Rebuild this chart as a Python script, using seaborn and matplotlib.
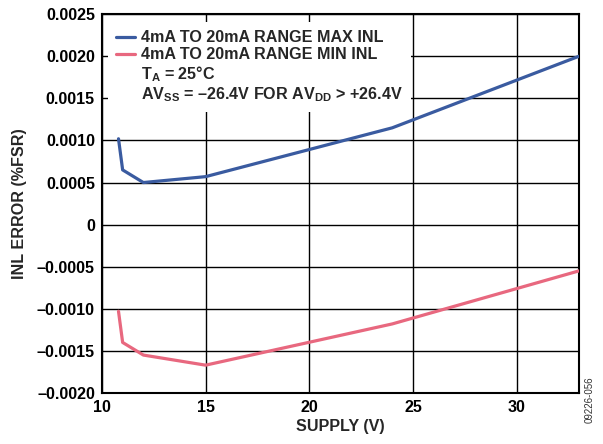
import pandas as pd
import numpy as np
import matplotlib
matplotlib.use('Agg')
import matplotlib.pyplot as plt
from matplotlib.lines import Line2D
from matplotlib.ticker import FuncFormatter
import seaborn as sns

sns.set_theme(style='white')
plt.rcParams.update({'font.family': ['Liberation Sans', 'DejaVu Sans'],
                     'font.weight': 'bold',
                     'mathtext.fontset': 'custom',
                     'mathtext.rm': 'Liberation Sans:bold',
                     'mathtext.bf': 'Liberation Sans:bold',
                     'axes.unicode_minus': False})

# data
supply = [10.8, 11.0, 12.0, 15.0, 24.0, 33.0]
inl_max = [0.00102, 0.00065, 0.00050, 0.00057, 0.00115, 0.00200]
inl_min = [-0.00103, -0.00140, -0.00155, -0.00167, -0.00118, -0.00055]
labels = ['4mA TO 20mA RANGE MAX INL', '4mA TO 20mA RANGE MIN INL']
colors = ['#3A5BA0', '#E8687F']

df = pd.DataFrame({'supply': supply * 2,
                   'inl': inl_max + inl_min,
                   'series': [labels[0]] * len(supply) + [labels[1]] * len(supply)})

fs = 11.6

fig = plt.figure(figsize=(6.03, 4.44), dpi=100)
ax = fig.add_axes([0.169, 0.115, 0.791, 0.853])

sns.lineplot(data=df, x='supply', y='inl', hue='series', palette=colors,
             linewidth=2.3, ax=ax, legend=False, zorder=3)

ax.set_xlim(10, 33)
ax.set_ylim(-0.0020, 0.0025)
ax.set_xticks([10, 15, 20, 25, 30])
ax.set_yticks(np.arange(-0.0020, 0.00251, 0.0005))

def fmt(v, pos):
    if abs(v) < 1e-9:
        return '0'
    return f'{v:.4f}'.replace('-', '\u2013')

ax.yaxis.set_major_formatter(FuncFormatter(fmt))
ax.grid(True, color='black', linewidth=1.0)
for s in ax.spines.values():
    s.set_color('black')
    s.set_linewidth(1.5)
ax.tick_params(direction='in', length=4, width=1, colors='black', labelsize=fs, pad=5)
for t in ax.get_xticklabels() + ax.get_yticklabels():
    t.set_fontweight('bold')

ax.set_xlabel('SUPPLY (V)', fontsize=fs, fontweight='bold', labelpad=3)
ax.set_ylabel('INL ERROR (%FSR)', fontsize=fs, fontweight='bold', labelpad=7)

handles = [Line2D([], [], color=colors[0], linewidth=2.3),
           Line2D([], [], color=colors[1], linewidth=2.3),
           Line2D([], [], color='none'),
           Line2D([], [], color='none')]
leg_labels = labels + ['T$_\\mathregular{A}$ = 25°C',
                       'AV$_\\mathregular{SS}$ = \u201326.4V FOR AV$_\\mathregular{DD}$ > +26.4V']
leg = ax.legend(handles, leg_labels, loc='upper left', bbox_to_anchor=(0.0126, 0.979),
                borderaxespad=0, frameon=True, fancybox=False, framealpha=1,
                facecolor='white', edgecolor='none', handlelength=1.15,
                handletextpad=0.4, labelspacing=0.12, borderpad=0.5,
                prop={'size': fs, 'weight': 'bold'})
leg.set_zorder(5)

fig.text(0.978, 0.099, '09226-056', rotation=90, fontsize=7, fontweight='normal',
         color='#333333', ha='center', va='center')

fig.savefig('out.png', dpi=100)
